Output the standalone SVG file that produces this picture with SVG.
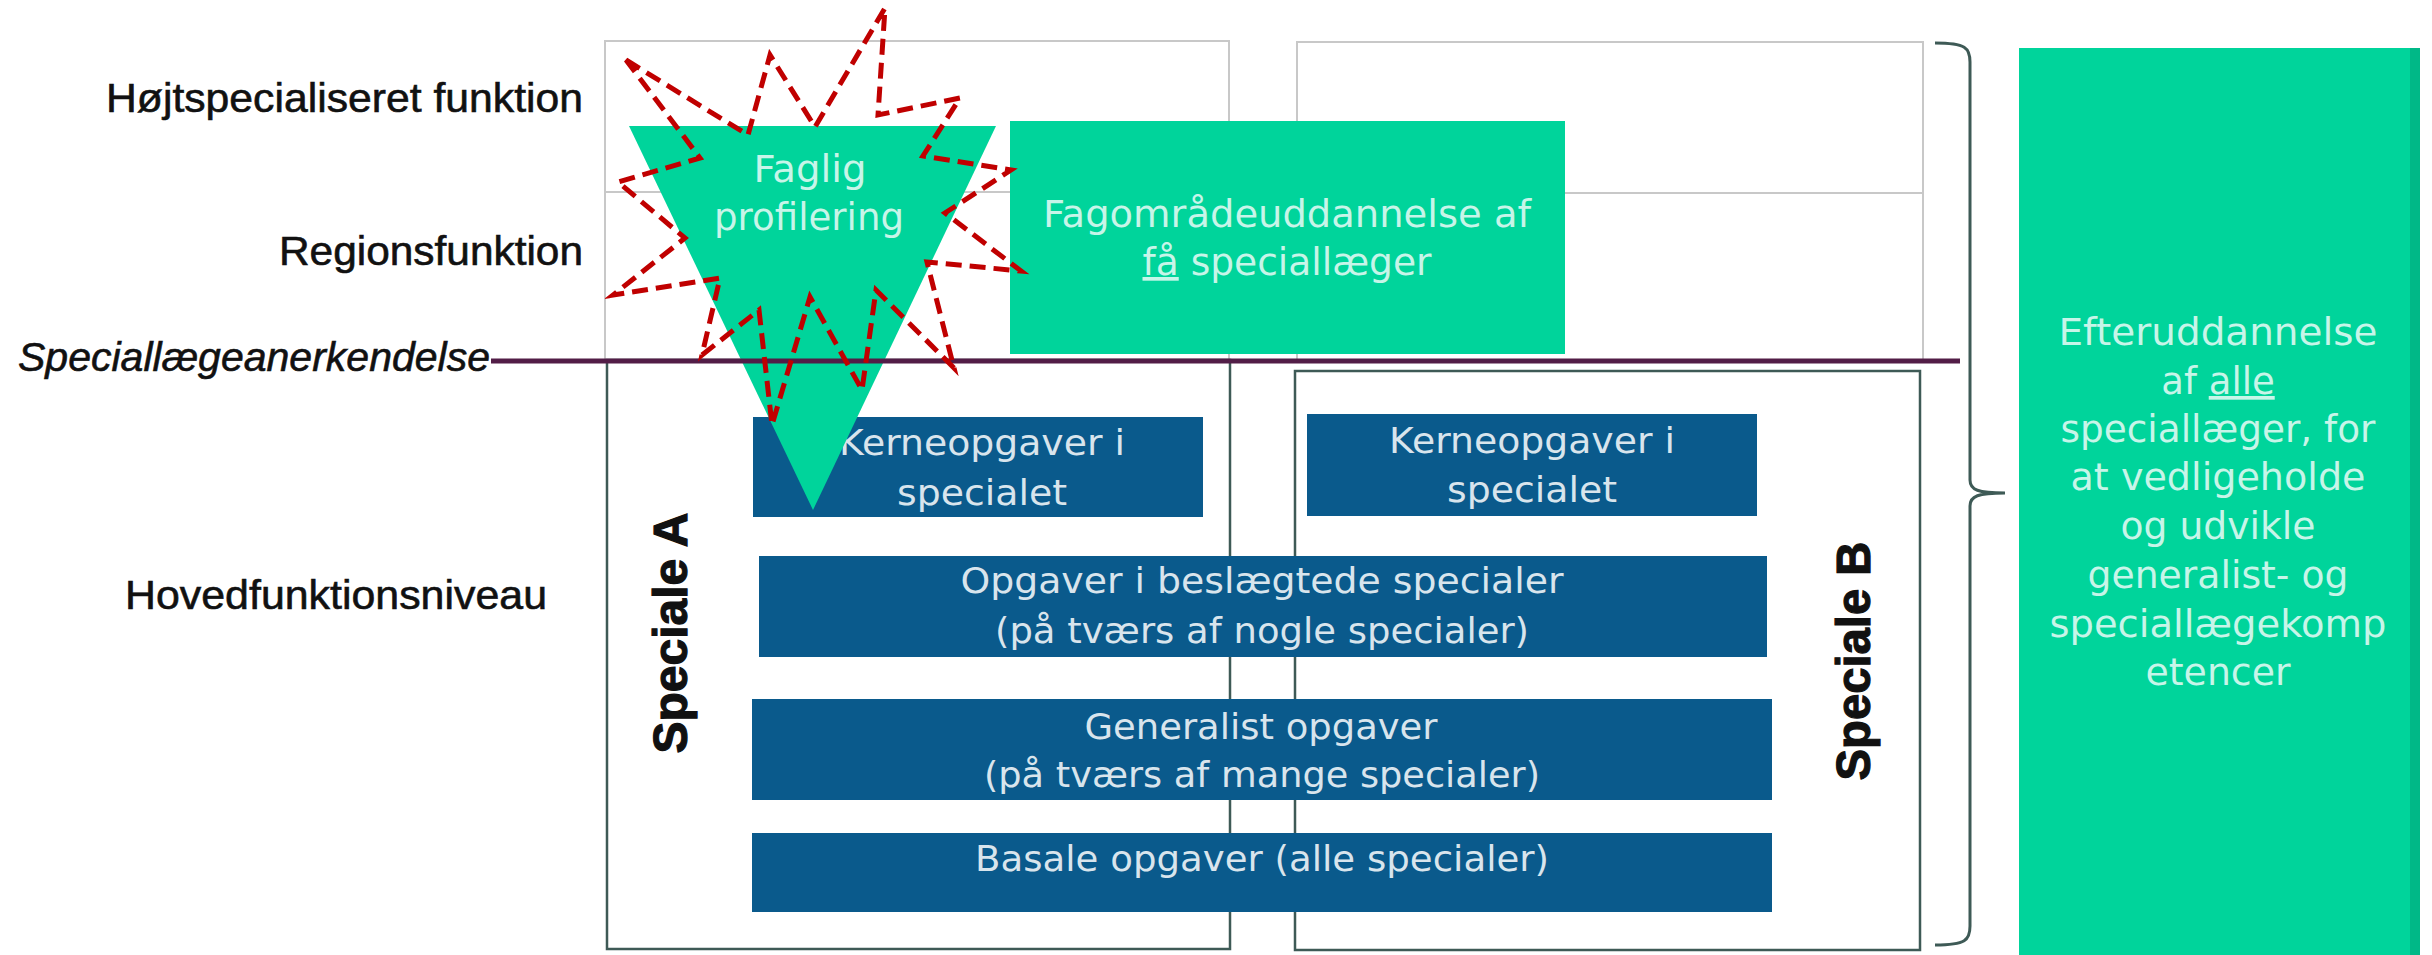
<svg xmlns="http://www.w3.org/2000/svg" width="2432" height="955" viewBox="0 0 2432 955">
<defs>
<style>
.lbl{font-family:"Liberation Sans",Arial,sans-serif;font-size:41px;fill:#111;stroke:#111;stroke-width:0.6;}
.spec{font-family:"Liberation Sans",Arial,sans-serif;font-size:48px;font-weight:bold;fill:#111;stroke:#111;stroke-width:1.2;}
.bt{font-family:"DejaVu Sans","Open Sans",sans-serif;font-size:36px;fill:#ffffff;fill-opacity:0.85;text-anchor:middle;}
.gt{font-family:"DejaVu Sans","Open Sans",sans-serif;font-size:37px;fill:#ffffff;fill-opacity:0.78;text-anchor:middle;}
.blue{fill:#0a5a8c;}
.green{fill:#00d49b;}
.upper{fill:none;stroke:#c8c8c8;stroke-width:2;}
.lower{fill:none;stroke:#3e5a56;stroke-width:2.5;}
</style>
</defs>
<rect width="2432" height="955" fill="#ffffff"/>

<g id="row-labels">
<text class="lbl" x="583" y="112" text-anchor="end" textLength="477" lengthAdjust="spacingAndGlyphs">Højtspecialiseret funktion</text>
<text class="lbl" x="583" y="265" text-anchor="end" textLength="304" lengthAdjust="spacingAndGlyphs">Regionsfunktion</text>
<text class="lbl" x="18" y="371" font-style="italic" textLength="472" lengthAdjust="spacingAndGlyphs">Speciallægeanerkendelse</text>
<text class="lbl" x="125" y="609" textLength="422" lengthAdjust="spacingAndGlyphs">Hovedfunktionsniveau</text>
</g>

<g id="column-A-upper">
<rect class="upper" x="605" y="41" width="624" height="319"/>
<line class="upper" x1="605" y1="192" x2="1229" y2="192"/>
</g>
<g id="column-B-upper">
<rect class="upper" x="1297" y="42" width="626" height="318"/>
<line class="upper" x1="1297" y1="193" x2="1923" y2="193"/>
</g>

<g id="speciale-A">
<rect class="lower" x="607" y="360" width="623" height="589"/>
<text class="spec" x="687" y="633" text-anchor="middle" transform="rotate(-90 687 633)" textLength="241" lengthAdjust="spacingAndGlyphs">Speciale A</text>
</g>
<g id="speciale-B">
<rect class="lower" x="1295" y="371" width="625" height="579"/>
<text class="spec" x="1870" y="661" text-anchor="middle" transform="rotate(-90 1870 661)" textLength="239" lengthAdjust="spacingAndGlyphs">Speciale B</text>
</g>

<g id="kerne-A">
<rect class="blue" x="753" y="417" width="450" height="100"/>
<text class="bt" x="982" y="455" textLength="286" lengthAdjust="spacingAndGlyphs">Kerneopgaver i</text>
<text class="bt" x="982" y="505" textLength="170" lengthAdjust="spacingAndGlyphs">specialet</text>
</g>
<g id="kerne-B">
<rect class="blue" x="1307" y="414" width="450" height="102"/>
<text class="bt" x="1532" y="453" textLength="286" lengthAdjust="spacingAndGlyphs">Kerneopgaver i</text>
<text class="bt" x="1532" y="502" textLength="170" lengthAdjust="spacingAndGlyphs">specialet</text>
</g>
<g id="beslaegtede">
<rect class="blue" x="759" y="556" width="1008" height="101"/>
<text class="bt" x="1262" y="593" textLength="603" lengthAdjust="spacingAndGlyphs">Opgaver i beslægtede specialer</text>
<text class="bt" x="1262" y="643" textLength="534" lengthAdjust="spacingAndGlyphs">(på tværs af nogle specialer)</text>
</g>
<g id="generalist">
<rect class="blue" x="752" y="699" width="1020" height="101"/>
<text class="bt" x="1261" y="739" textLength="353" lengthAdjust="spacingAndGlyphs">Generalist opgaver</text>
<text class="bt" x="1262" y="787" textLength="556" lengthAdjust="spacingAndGlyphs">(på tværs af mange specialer)</text>
</g>
<g id="basale">
<rect class="blue" x="752" y="833" width="1020" height="79"/>
<text class="bt" x="1262" y="871" textLength="574" lengthAdjust="spacingAndGlyphs">Basale opgaver (alle specialer)</text>
</g>

<g id="faglig-profilering">
<polygon class="green" points="629,126 996,126 813,510"/>
<text class="gt" x="810" y="182" textLength="113" lengthAdjust="spacingAndGlyphs">Faglig</text>
<text class="gt" x="809" y="230" textLength="190" lengthAdjust="spacingAndGlyphs">profilering</text>
</g>

<g id="fagomraade">
<rect class="green" x="1010" y="121" width="555" height="233"/>
<text class="gt" x="1287" y="227" textLength="488" lengthAdjust="spacingAndGlyphs">Fagområdeuddannelse af</text>
<text class="gt" x="1287" y="275" textLength="289" lengthAdjust="spacingAndGlyphs"><tspan text-decoration="underline">få</tspan> speciallæger</text>
</g>

<g id="connectors">
<line x1="491" y1="361" x2="1960" y2="361" stroke="#521d47" stroke-width="5"/>
<path d="M1935,43 C1966,43 1970,48 1970,62 V480 C1970,490 1978,493 2005,493 C1978,493 1970,496 1970,506 V926 C1970,940 1966,945 1935,945" fill="none" stroke="#3e5a56" stroke-width="3"/>
</g>

<g id="efteruddannelse">
<rect class="green" x="2019" y="48" width="401" height="910"/>
<rect x="2410" y="48" width="10" height="910" fill="#00b887"/>
<text class="gt" x="2218" y="345" textLength="319" lengthAdjust="spacingAndGlyphs">Efteruddannelse</text>
<text class="gt" x="2218" y="394">af <tspan text-decoration="underline">alle</tspan></text>
<text class="gt" x="2218" y="442" textLength="315" lengthAdjust="spacingAndGlyphs">speciallæger, for</text>
<text class="gt" x="2218" y="490" textLength="295" lengthAdjust="spacingAndGlyphs">at vedligeholde</text>
<text class="gt" x="2218" y="539" textLength="195" lengthAdjust="spacingAndGlyphs">og udvikle</text>
<text class="gt" x="2218" y="588" textLength="261" lengthAdjust="spacingAndGlyphs">generalist- og</text>
<text class="gt" x="2218" y="637" textLength="337" lengthAdjust="spacingAndGlyphs">speciallægekomp</text>
<text class="gt" x="2218" y="685" textLength="145" lengthAdjust="spacingAndGlyphs">etencer</text>
</g>

<g id="star">
<polygon points="626,60 748,135 770,55 815,127 885,8 878,115 960,98 923,156 1011,170 945,213 1021,271 927,262 954,368 876,290 862,390 810,297 772,425 759,310 702,355 720,278 613,295 685,238 618,182 700,158" fill="none" stroke="#c00000" stroke-width="5" stroke-dasharray="16 8"/>
</g>
</svg>
